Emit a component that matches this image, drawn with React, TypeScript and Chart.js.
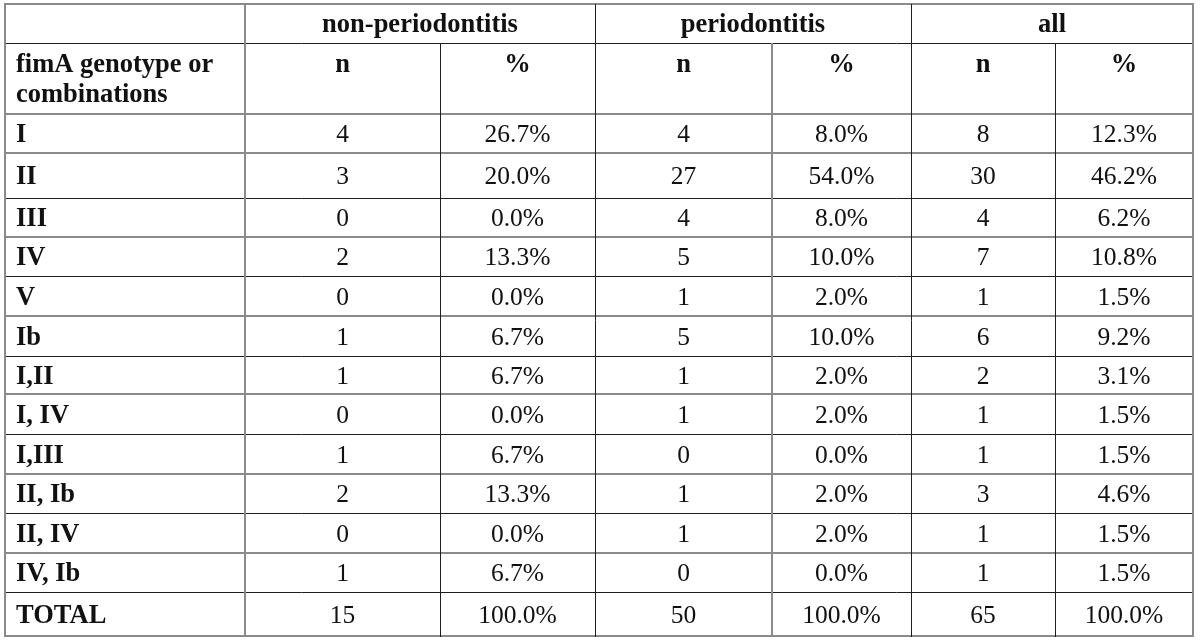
import React, { useEffect, useRef } from "react";
import { Chart, registerables } from "chart.js";

Chart.register(...registerables);

// ---------- data ----------
const GROUPS = ["non-periodontitis", "periodontitis", "all"];
const SUB_HEADERS = ["n", "%"];
const FIRST_HEADER = ["fimA genotype or", "combinations"];
const GENOTYPES = ["I", "II", "III", "IV", "V", "Ib", "I,II", "I, IV", "I,III", "II, Ib", "II, IV", "IV, Ib", "TOTAL"];
const NON_N = [4, 3, 0, 2, 0, 1, 1, 0, 1, 2, 0, 1, 15];
const NON_PCT = [26.7, 20.0, 0.0, 13.3, 0.0, 6.7, 6.7, 0.0, 6.7, 13.3, 0.0, 6.7, 100.0];
const PER_N = [4, 27, 4, 5, 1, 5, 1, 1, 0, 1, 1, 0, 50];
const PER_PCT = [8.0, 54.0, 8.0, 10.0, 2.0, 10.0, 2.0, 2.0, 0.0, 2.0, 2.0, 0.0, 100.0];
const ALL_N = [8, 30, 4, 7, 1, 6, 2, 1, 1, 3, 1, 1, 65];
const ALL_PCT = [12.3, 46.2, 6.2, 10.8, 1.5, 9.2, 3.1, 1.5, 1.5, 4.6, 1.5, 1.5, 100.0];

// ---------- layout (not data) ----------
const COL_WIDTHS = [240, 195, 155, 177, 139, 144, 138];
const ROW_HEIGHTS = [39, 71, 39, 45, 39, 39, 40, 40, 38, 40, 40, 39, 40, 39, 44];
const H_STYLE = ["g", "k", "g", "g", "k", "g", "k", "g", "k", "g", "k", "g", "k", "g", "k", "g"];
const V_STYLE = ["g", "g", "k", "k", "g", "k", "k", "g"];
const V_START = [0, 0, 1, 0, 1, 0, 1, 0];
const FONT = "'Liberation Serif', 'Times New Roman', serif";
const BOLD_SIZE = 26.5;
const REG_SIZE = 25.5;

const cum = (arr: number[]) => {
  const out = [0];
  arr.forEach((w) => out.push(out[out.length - 1] + w));
  return out;
};
const COL_EDGES = cum(COL_WIDTHS);
const ROW_EDGES = cum(ROW_HEIGHTS);
const TOTAL_W = COL_EDGES[COL_EDGES.length - 1];
const TOTAL_H = ROW_EDGES[ROW_EDGES.length - 1];
const colCenter = (c: number) => (COL_EDGES[c] + COL_EDGES[c + 1]) / 2;
const rowCenter = (r: number) => (ROW_EDGES[r] + ROW_EDGES[r + 1]) / 2;

const pct = (v: number) => v.toFixed(1) + "%";
const COLUMNS: string[][] = [
  NON_N.map(String),
  NON_PCT.map(pct),
  PER_N.map(String),
  PER_PCT.map(pct),
  ALL_N.map(String),
  ALL_PCT.map(pct),
];

const tablePlugin = {
  id: "tableDraw",
  afterDatasetsDraw(chart: any) {
    const ctx = chart.ctx as CanvasRenderingContext2D;
    const xs = chart.scales.x;
    const ys = chart.scales.y;
    const X = (v: number) => xs.getPixelForValue(v);
    const Y = (v: number) => ys.getPixelForValue(v);
    ctx.save();

    // grid lines of the table
    const setStyle = (s: string) => {
      if (s === "g") {
        ctx.strokeStyle = "#8a8a8a";
        ctx.lineWidth = 2;
      } else {
        ctx.strokeStyle = "#1e1e1e";
        ctx.lineWidth = 1;
      }
    };
    const snap = (p: number, s: string) => (s === "g" ? Math.round(p) : Math.round(p) + 0.5);
    ROW_EDGES.forEach((e, i) => {
      const s = H_STYLE[i];
      setStyle(s);
      const y = snap(Y(e), s);
      ctx.beginPath();
      ctx.moveTo(X(0) - 1, y);
      ctx.lineTo(X(TOTAL_W) + 1, y);
      ctx.stroke();
    });
    COL_EDGES.forEach((e, i) => {
      const s = V_STYLE[i];
      setStyle(s);
      const x = snap(X(e), s);
      ctx.beginPath();
      ctx.moveTo(x, Y(ROW_EDGES[V_START[i]]));
      ctx.lineTo(x, Y(TOTAL_H) + 1);
      ctx.stroke();
    });

    ctx.fillStyle = "#111";
    ctx.textBaseline = "alphabetic";

    // group headers
    ctx.font = `bold ${BOLD_SIZE}px ${FONT}`;
    ctx.textAlign = "center";
    GROUPS.forEach((g, i) => {
      const cx = (X(COL_EDGES[1 + i * 2]) + X(COL_EDGES[3 + i * 2])) / 2;
      ctx.fillText(g, cx, Y(rowCenter(0)) + 8.5);
    });
    // sub headers
    const subTop = Y(ROW_EDGES[1]);
    for (let c = 1; c <= 6; c++) {
      ctx.fillText(SUB_HEADERS[(c - 1) % 2], X(colCenter(c)), subTop + 29);
    }
    // first header
    ctx.textAlign = "left";
    FIRST_HEADER.forEach((t, i) => {
      ctx.fillText(t, X(0) + 11, subTop + 29 + i * 30);
    });
    // row labels
    GENOTYPES.forEach((g, i) => {
      ctx.fillText(g, X(0) + 11, Y(rowCenter(i + 2)) + 8.5);
    });

    // cells through dataset elements
    ctx.font = `${REG_SIZE}px ${FONT}`;
    ctx.textAlign = "center";
    chart.data.datasets.forEach((ds: any, di: number) => {
      const meta = chart.getDatasetMeta(di);
      meta.data.forEach((el: any, i: number) => {
        ctx.fillText(ds.data[i].label, el.x, el.y + 8.5);
      });
    });
    ctx.restore();
  },
};

export default function App() {
  const ref = useRef<HTMLCanvasElement>(null);
  useEffect(() => {
    const datasets = COLUMNS.map((col, c) => ({
      label: `col${c}`,
      data: col.map((txt, r) => ({ x: colCenter(c + 1), y: rowCenter(r + 2), label: txt })),
      pointRadius: 0,
      pointHoverRadius: 0,
      showLine: false,
    }));
    const chart = new Chart(ref.current as HTMLCanvasElement, {
      type: "scatter",
      data: { datasets },
      options: {
        animation: false,
        responsive: false,
        devicePixelRatio: 1,
        events: [],
        layout: { padding: { left: 5, top: 4, right: 7, bottom: 5 } },
        scales: {
          x: { type: "linear", min: 0, max: TOTAL_W, display: false },
          y: { type: "linear", min: 0, max: TOTAL_H, reverse: true, display: false },
        },
        plugins: { legend: { display: false }, tooltip: { enabled: false } },
      },
      plugins: [tablePlugin],
    } as any);
    return () => chart.destroy();
  }, []);
  return (
    <div style={{ position: "absolute", left: 0, top: 0, width: 1200, height: 641, background: "#fff" }}>
      <canvas ref={ref} width={1200} height={641} style={{ display: "block", width: 1200, height: 641 }} />
    </div>
  );
}
